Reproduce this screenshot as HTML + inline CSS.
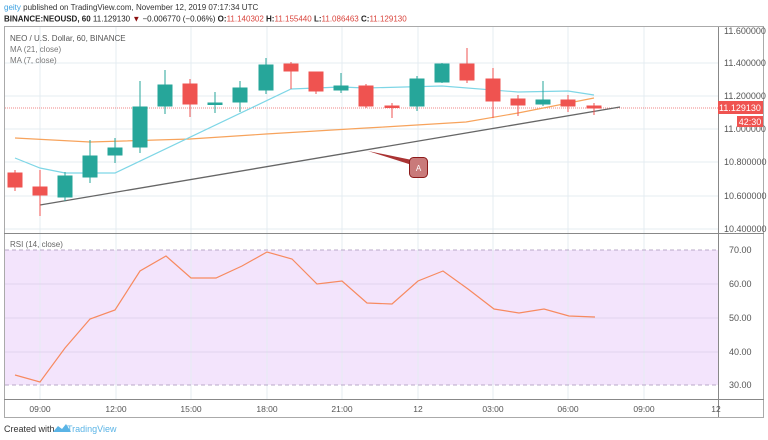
<!DOCTYPE html>
<html><head><meta charset="utf-8"><style>
body{margin:0;background:#fff;width:768px;height:440px;overflow:hidden;font-family:"Liberation Sans",sans-serif}
svg{position:absolute;left:0;top:0}
</style></head><body>
<svg width="768" height="440" viewBox="0 0 768 440" font-family="Liberation Sans, sans-serif">
<text x="4" y="10" font-size="8" fill="#333"><tspan fill="#3ba0e0">geity</tspan> published on TradingView.com, November 12, 2019 07:17:34 UTC</text>
<text x="4" y="21.5" font-size="8" fill="#222"><tspan font-weight="bold">BINANCE:NEOUSD, 60</tspan> 11.129130 <tspan fill="#8b1010">▼</tspan> −0.006770 (−0.06%) <tspan font-weight="bold">O:</tspan><tspan fill="#d9443c">11.140302</tspan> <tspan font-weight="bold">H:</tspan><tspan fill="#d9443c">11.155440</tspan> <tspan font-weight="bold">L:</tspan><tspan fill="#d9443c">11.086463</tspan> <tspan font-weight="bold">C:</tspan><tspan fill="#d9443c">11.129130</tspan></text>
<rect x="4.5" y="26.5" width="759" height="391" fill="none" stroke="#aaa"/>
<rect x="5" y="250" width="713" height="135" fill="#f3e4fc"/>
<g stroke="#e4ecf2" stroke-width="1">
<line x1="40" y1="27" x2="40" y2="399"/><line x1="116" y1="27" x2="116" y2="399"/><line x1="191" y1="27" x2="191" y2="399"/><line x1="267" y1="27" x2="267" y2="399"/><line x1="342" y1="27" x2="342" y2="399"/><line x1="418" y1="27" x2="418" y2="399"/><line x1="493" y1="27" x2="493" y2="399"/><line x1="568" y1="27" x2="568" y2="399"/><line x1="644" y1="27" x2="644" y2="399"/>
<line x1="5" y1="63" x2="718" y2="63"/><line x1="5" y1="96" x2="718" y2="96"/><line x1="5" y1="129" x2="718" y2="129"/><line x1="5" y1="162" x2="718" y2="162"/><line x1="5" y1="196" x2="718" y2="196"/><line x1="5" y1="229" x2="718" y2="229"/>
<line x1="5" y1="284" x2="718" y2="284" stroke="#e0d4ee"/><line x1="5" y1="318" x2="718" y2="318" stroke="#e0d4ee"/><line x1="5" y1="352" x2="718" y2="352" stroke="#e0d4ee"/>
</g>
<line x1="5" y1="250" x2="718" y2="250" stroke="#b8a8c8" stroke-dasharray="4,3"/>
<line x1="5" y1="385" x2="718" y2="385" stroke="#b8a8c8" stroke-dasharray="4,3"/>
<line x1="4" y1="233.5" x2="764" y2="233.5" stroke="#888"/>
<line x1="4" y1="399.5" x2="764" y2="399.5" stroke="#888"/>
<line x1="718.5" y1="27" x2="718.5" y2="417" stroke="#888"/>
<g font-size="9" fill="#555">
<text x="724" y="66">11.400000</text><text x="724" y="99">11.200000</text><text x="724" y="132">11.000000</text><text x="724" y="165">10.800000</text><text x="724" y="199">10.600000</text><text x="724" y="232">10.400000</text><text x="724" y="34">11.600000</text>
<text x="729" y="253">70.00</text><text x="729" y="287">60.00</text><text x="729" y="321">50.00</text><text x="729" y="355">40.00</text><text x="729" y="388">30.00</text>
</g>
<g font-size="8.5" fill="#555" text-anchor="middle">
<text x="40" y="412">09:00</text><text x="116" y="412">12:00</text><text x="191" y="412">15:00</text><text x="267" y="412">18:00</text><text x="342" y="412">21:00</text><text x="418" y="412">12</text><text x="493" y="412">03:00</text><text x="568" y="412">06:00</text><text x="644" y="412">09:00</text><text x="716" y="412">12</text>
</g>
<g font-size="8" fill="#555"><text x="10" y="41">NEO / U.S. Dollar, 60, BINANCE</text><text x="10" y="52" fill="#777">MA (21, close)</text><text x="10" y="63" fill="#777">MA (7, close)</text><text x="10" y="247" fill="#666">RSI (14, close)</text></g>
<line x1="5" y1="108" x2="718" y2="108" stroke="#ef6a6a" stroke-dasharray="1,1" opacity="0.8"/>
<rect x="718" y="101" width="45" height="13" fill="#ef5350"/><text x="740" y="111" font-size="9" fill="#fff" text-anchor="middle">11.129130</text>
<rect x="737" y="116" width="26" height="11" fill="#ef5350"/><text x="750" y="125" font-size="9" fill="#fff" text-anchor="middle">42:30</text>
<polyline fill="none" stroke="#f7a35c" stroke-width="1.2" points="15,138 90,142 190,139 266,134 366,128 384,127 466,122 518,113 594,98"/>
<polyline fill="none" stroke="#7ed6e6" stroke-width="1.2" points="15,158 40,168 65,173 115,173 291,89 341,87 366,88 442,86 518,92 568,91 594,95"/>
<line x1="40" y1="205" x2="620" y2="107" stroke="#666" stroke-width="1.3"/>
<g stroke-width="1">
<g stroke="#ef5350" fill="#ef5350">
<line x1="15" y1="170" x2="15" y2="191"/><rect x="8" y="173" width="14" height="14"/>
<line x1="40" y1="170" x2="40" y2="216"/><rect x="33" y="187" width="14" height="8"/>
<line x1="190" y1="79" x2="190" y2="117"/><rect x="183" y="84" width="14" height="20"/>
<line x1="291" y1="62" x2="291" y2="89"/><rect x="284" y="64" width="14" height="7"/>
<line x1="316" y1="72" x2="316" y2="94"/><rect x="309" y="72" width="14" height="19"/>
<line x1="366" y1="84" x2="366" y2="108"/><rect x="359" y="86" width="14" height="20"/>
<line x1="392" y1="103" x2="392" y2="118"/><rect x="385" y="106" width="14" height="1.5"/>
<line x1="467" y1="48" x2="467" y2="83"/><rect x="460" y="64" width="14" height="16"/>
<line x1="493" y1="68" x2="493" y2="118"/><rect x="486" y="79" width="14" height="22"/>
<line x1="518" y1="95" x2="518" y2="116"/><rect x="511" y="99" width="14" height="6"/>
<line x1="568" y1="95" x2="568" y2="112"/><rect x="561" y="100" width="14" height="6"/>
<line x1="594" y1="103" x2="594" y2="115"/><rect x="587" y="106" width="14" height="2"/>
</g>
<g stroke="#26a69a" fill="#26a69a">
<line x1="65" y1="172" x2="65" y2="201"/><rect x="58" y="176" width="14" height="21"/>
<line x1="90" y1="140" x2="90" y2="183"/><rect x="83" y="156" width="14" height="21"/>
<line x1="115" y1="138" x2="115" y2="163"/><rect x="108" y="148" width="14" height="7"/>
<line x1="140" y1="81" x2="140" y2="153"/><rect x="133" y="107" width="14" height="40"/>
<line x1="165" y1="70" x2="165" y2="114"/><rect x="158" y="85" width="14" height="21"/>
<line x1="215" y1="92" x2="215" y2="113"/><rect x="208" y="103" width="14" height="1.5"/>
<line x1="240" y1="81" x2="240" y2="112"/><rect x="233" y="88" width="14" height="14"/>
<line x1="266" y1="58" x2="266" y2="94"/><rect x="259" y="65" width="14" height="25"/>
<line x1="341" y1="73" x2="341" y2="93"/><rect x="334" y="86" width="14" height="4"/>
<line x1="417" y1="76" x2="417" y2="111"/><rect x="410" y="79" width="14" height="27"/>
<line x1="442" y1="63" x2="442" y2="83"/><rect x="435" y="64" width="14" height="18"/>
<line x1="543" y1="81" x2="543" y2="106"/><rect x="536" y="100" width="14" height="4"/>
</g>
</g>
<polygon points="368,151 412,160 412,165" fill="#a33"/>
<rect x="409.5" y="157.5" width="18" height="20" rx="4" fill="#c97a7a" stroke="#8b1a1a"/>
<text x="418.5" y="171" font-size="8" fill="#fff" text-anchor="middle">A</text>
<polyline fill="none" stroke="#f78a60" stroke-width="1.2" points="15,375 40,382 65,348 90,319 115,310 140,271 166,256 191,278 216,278 242,266 267,252 292,259 317,284 342,281 367,303 392,304 418,281 443,271 468,289 494,309 519,313 544,309 569,316 595,317"/>
<text x="4" y="432" font-size="9" fill="#333">Created with</text>
<path d="M53 432 l5-6 4 3 4-5 5 8z" fill="#5ab4e6"/>
<text x="67" y="432" font-size="9" fill="#5ab4e6">TradingView</text>
</svg>
</body></html>
